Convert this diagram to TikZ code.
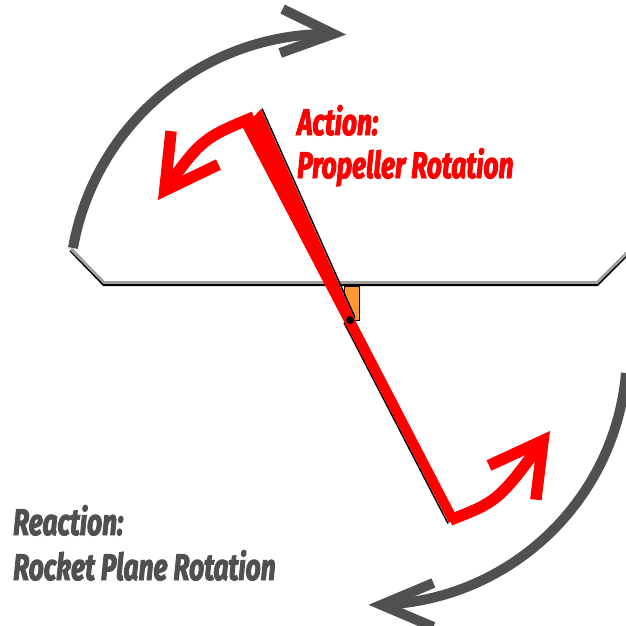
\documentclass[tikz,border=0pt]{standalone}
\usepackage{fontspec}
\newfontfamily\labelfont{Fira Sans}[FakeStretch=0.71, FakeBold=2.5]
\usetikzlibrary{arrows.meta, bending}
\definecolor{arcgray}{RGB}{80,80,80}
\definecolor{winggray}{RGB}{160,160,160}
\definecolor{huborange}{RGB}{255,153,51}

\begin{document}
\begin{tikzpicture}[
        x=1pt, y=-1pt,
        reaction/.style={draw=arcgray, line width=10pt, -{Straight Barb[length=52pt, width=44pt]}},
        action/.style={draw=red, line width=11.5pt, -{Straight Barb[length=52pt, width=58pt]}},
        blade/.style={fill=red, draw=none},
        bladeedge/.style={draw=black, line width=1.5pt},
        wing/.style={draw=winggray, line width=2.8pt, line join=miter},
        wingedge/.style={draw=black, line width=4pt, line join=miter},
        caption/.style={inner sep=0pt, anchor=base west, font=\labelfont\bfseries\itshape\fontsize{37}{43}\selectfont},
    ]
    \useasboundingbox (0,0) rectangle (626,625);
    \clip (0,0) rectangle (626,625);
    % reaction arcs
    \draw[reaction] (73,248) arc[start angle=190, end angle=274, radius=259];
    \draw[reaction] (626,373) arc[start angle=5, end angle=91, radius=254];
    % wing
    \draw[wingedge] (71,250) -- (104,284) -- (597,284) -- (633,248);
    \draw[wing] (71,249) -- (104,282.5) -- (597,282.5) -- (633,247);
    % hub
    \draw[fill=huborange, line width=0.8pt] (344,286) rectangle (359,320);
    % propeller
    \draw[bladeedge] (262,108.6) -- (355,317.6);
    \draw[bladeedge] (344,322.5) -- (448,523.5);
    \fill[blade] (243,128) -- (261,109) -- (354,318) -- (457,517) -- (449,523) -- cycle;
    % action arrows
    \draw[action] (254,117) .. controls (201,139) .. (158,200);
    \draw[action] (450,520) .. controls (499,501) .. (550,431);
    \fill (350,320) circle[radius=4];
    % labels
    \node[caption, text=red] (action) at (297,135) {Action:};
    \node[caption, text=red] (propeller) at (297,178) {Propeller Rotation};
    \node[caption, text=arcgray] (reaction) at (13,535) {Reaction:};
    \node[caption, text=arcgray] (rocket) at (13,580) {Rocket Plane Rotation};
\end{tikzpicture}
\end{document}
